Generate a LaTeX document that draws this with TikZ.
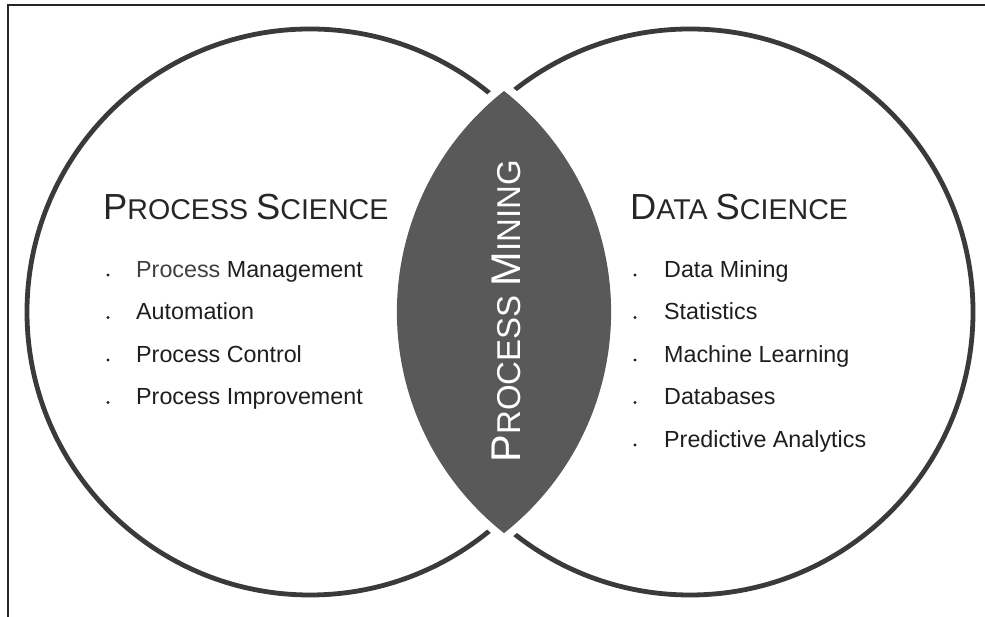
\documentclass[tikz,border=0pt]{standalone}
\usepackage{fontspec}
\setmainfont{Liberation Sans}
\definecolor{ringc}{HTML}{3A3A3A}
\definecolor{lensc}{HTML}{595959}
\definecolor{headc}{HTML}{262626}
\definecolor{itemc}{HTML}{1E1E1E}
\definecolor{itemlight}{HTML}{404040}
\newcommand{\hbigfont}{\fontsize{36.3}{40}\selectfont}
\newcommand{\hsmallfont}{\fontsize{28.6}{32}\selectfont}
\newcommand{\lbigfont}{\fontsize{41.5}{46}\selectfont}
\newcommand{\lsmallfont}{\fontsize{33}{38}\selectfont}
\tikzset{
  ring/.style={draw=ringc, line width=4.8pt},
  heading/.style={anchor=base west, inner sep=0pt, text=headc},
  itemtext/.style={anchor=base west, inner sep=0pt, text=itemc, font=\fontsize{23.3}{27}\selectfont},
  bulletdot/.style={circle, fill=itemc, inner sep=0pt, minimum size=3.2pt},
  frameline/.style={draw=black!85, line width=1.3pt}
}
\begin{document}
\begin{tikzpicture}[x=1pt,y=1pt]
\useasboundingbox (0,0) rectangle (985,617);
% frame (top and left only)
\coordinate (fa) at (8,0);
\coordinate (fb) at (8,612);
\coordinate (fc) at (985,612);
\draw[frameline] (fa) -- (fb) -- (fc);
% circles
\coordinate (lc) at (310,305);
\coordinate (rc) at (690,305);
\draw[ring] (lc) circle[radius=283];
\draw[ring] (rc) circle[radius=283];
% lens with white gap
\coordinate (ltop) at (504,526);
\draw[white, line width=16pt, line join=round]
  (ltop) arc[start angle=128.3, end angle=231.7, radius=281.7]
  arc[start angle=-51.7, end angle=51.7, radius=281.7] -- cycle;
\fill[lensc]
  (ltop) arc[start angle=128.3, end angle=231.7, radius=281.7]
  arc[start angle=-51.7, end angle=51.7, radius=281.7] -- cycle;
\node[rotate=90, text=white, inner sep=0pt] (pm) at (506,306)
  {\lbigfont P\lsmallfont ROCESS \lbigfont M\lsmallfont INING};
% headings
\node[heading] (ps) at (103,397) {\hbigfont P\hsmallfont ROCESS \hbigfont S\hsmallfont CIENCE};
\node[heading] (ds) at (630,397) {\hbigfont D\hsmallfont ATA \hbigfont S\hsmallfont CIENCE};
% left list
\node[itemtext] (l1) at (136,339.5) {\textcolor{itemlight}{Process} Management};
\node[itemtext] (l2) at (136,297) {Automation};
\node[itemtext] (l3) at (136,254.5) {Process Control};
\node[itemtext] (l4) at (136,212) {Process Improvement};
\node[bulletdot] (lb1) at (108,342) {};
\node[bulletdot] (lb2) at (108,299.5) {};
\node[bulletdot] (lb3) at (108,257) {};
\node[bulletdot] (lb4) at (108,214.5) {};
% right list
\node[itemtext] (r1) at (664,339.5) {Data Mining};
\node[itemtext] (r2) at (664,297) {Statistics};
\node[itemtext] (r3) at (664,254.5) {Machine Learning};
\node[itemtext] (r4) at (664,212) {Databases};
\node[itemtext] (r5) at (664,169.5) {Predictive Analytics};
\node[bulletdot] (rb1) at (635,342) {};
\node[bulletdot] (rb2) at (635,299.5) {};
\node[bulletdot] (rb3) at (635,257) {};
\node[bulletdot] (rb4) at (635,214.5) {};
\node[bulletdot] (rb5) at (635,172) {};
\end{tikzpicture}
\end{document}
